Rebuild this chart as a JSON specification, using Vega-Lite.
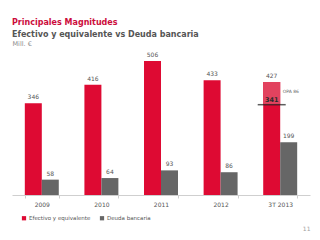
{
  "$schema": "https://vega.github.io/schema/vega-lite/v6.json",
  "autosize": {"type": "none"},
  "width": 298,
  "height": 134,
  "padding": {"left": 12, "top": 61, "right": 10, "bottom": 45},
  "background": "white",
  "title": {
    "text": "Principales Magnitudes",
    "subtitle": "Efectivo y equivalente vs Deuda bancaria",
    "anchor": "start",
    "frame": "group",
    "font": "DejaVu Sans",
    "fontSize": 8,
    "fontWeight": "bold",
    "color": "#cc0c3c",
    "subtitleFont": "DejaVu Sans",
    "subtitleFontSize": 8,
    "subtitleFontWeight": "bold",
    "subtitleColor": "#555555",
    "subtitlePadding": 4,
    "offset": 1
  },
  "datasets": {
    "barras": [
      {"periodo": "2009", "serie": "Efectivo y equivalente", "valor": 346},
      {"periodo": "2009", "serie": "Deuda bancaria", "valor": 58},
      {"periodo": "2010", "serie": "Efectivo y equivalente", "valor": 416},
      {"periodo": "2010", "serie": "Deuda bancaria", "valor": 64},
      {"periodo": "2011", "serie": "Efectivo y equivalente", "valor": 506},
      {"periodo": "2011", "serie": "Deuda bancaria", "valor": 93},
      {"periodo": "2012", "serie": "Efectivo y equivalente", "valor": 433},
      {"periodo": "2012", "serie": "Deuda bancaria", "valor": 86},
      {"periodo": "3T 2013", "serie": "Efectivo y equivalente", "valor": 427},
      {"periodo": "3T 2013", "serie": "Deuda bancaria", "valor": 199}
    ],
    "opa": [
      {"periodo": "3T 2013", "serie": "Efectivo y equivalente", "total": 427, "sinOpa": 341, "etiqueta": "OPA 86"}
    ]
  },
  "encoding": {
    "x": {
      "field": "periodo",
      "type": "nominal",
      "sort": null,
      "scale": {"paddingInner": 0.43, "paddingOuter": 0.215},
      "axis": {
        "title": "11",
        "titleAnchor": "end",
        "titleAlign": "right",
        "titleBaseline": "alphabetic",
        "titleY": 35,
        "titleFont": "DejaVu Sans",
        "titleFontSize": 6,
        "titleFontWeight": "normal",
        "titleColor": "#a0a0a0",
        "labelAngle": 0,
        "labelFont": "DejaVu Sans",
        "labelFontSize": 6,
        "labelColor": "#555555",
        "labelPadding": 3,
        "domainColor": "#cfcfcf",
        "tickColor": "#cfcfcf",
        "tickBand": "extent",
        "tickSize": 3
      }
    },
    "xOffset": {"field": "serie", "type": "nominal", "sort": ["Efectivo y equivalente", "Deuda bancaria"]}
  },
  "layer": [
    {
      "data": {"name": "barras"},
      "mark": {"type": "bar"},
      "encoding": {
        "y": {
          "field": "valor",
          "type": "quantitative",
          "scale": {"domain": [0, 506], "nice": false},
          "axis": {
            "title": "Mill. €",
            "titleAngle": 0,
            "titleAlign": "left",
            "titleBaseline": "alphabetic",
            "titleX": 0,
            "titleY": -16,
            "titleFont": "DejaVu Sans",
            "titleFontSize": 6.5,
            "titleFontWeight": "normal",
            "titleColor": "#8a8a8a",
            "labels": false,
            "ticks": false,
            "domain": false,
            "grid": false
          }
        },
        "color": {
          "field": "serie",
          "type": "nominal",
          "sort": ["Efectivo y equivalente", "Deuda bancaria"],
          "scale": {"domain": ["Efectivo y equivalente", "Deuda bancaria"], "range": ["#de0a33", "#666666"]},
          "legend": {
            "title": null,
            "orient": "none",
            "legendX": 9,
            "legendY": 154,
            "direction": "horizontal",
            "symbolType": "square",
            "symbolSize": 18,
            "labelFont": "DejaVu Sans",
            "labelFontSize": 5.5,
            "labelColor": "#555555",
            "labelOffset": 2,
            "columnPadding": 8
          }
        }
      }
    },
    {
      "data": {"name": "opa"},
      "mark": {"type": "bar", "color": "#e2435f"},
      "encoding": {
        "y": {"field": "total", "type": "quantitative"},
        "y2": {"field": "sinOpa"}
      }
    },
    {
      "data": {"name": "opa"},
      "mark": {"type": "tick", "color": "#1a1a1a", "thickness": 1.5, "size": 28},
      "encoding": {
        "y": {"field": "sinOpa", "type": "quantitative"}
      }
    },
    {
      "data": {"name": "opa"},
      "mark": {"type": "text", "font": "DejaVu Sans", "fontSize": 6.5, "fontWeight": "bold", "fill": "#2a2a2a", "baseline": "alphabetic", "dy": -3},
      "encoding": {
        "y": {"field": "sinOpa", "type": "quantitative"},
        "text": {"field": "sinOpa", "type": "quantitative"}
      }
    },
    {
      "data": {"name": "opa"},
      "mark": {"type": "text", "font": "DejaVu Sans", "fontSize": 4.5, "fill": "#666666", "align": "left", "baseline": "middle", "dx": 11, "dy": 10},
      "encoding": {
        "y": {"field": "total", "type": "quantitative"},
        "text": {"field": "etiqueta"}
      }
    },
    {
      "data": {"name": "barras"},
      "mark": {"type": "text", "font": "DejaVu Sans", "fontSize": 6, "fill": "#555555", "baseline": "alphabetic", "dy": -4},
      "encoding": {
        "y": {"field": "valor", "type": "quantitative"},
        "text": {"field": "valor", "type": "quantitative"}
      }
    }
  ],
  "config": {
    "view": {"stroke": null},
    "font": "DejaVu Sans"
  }
}
